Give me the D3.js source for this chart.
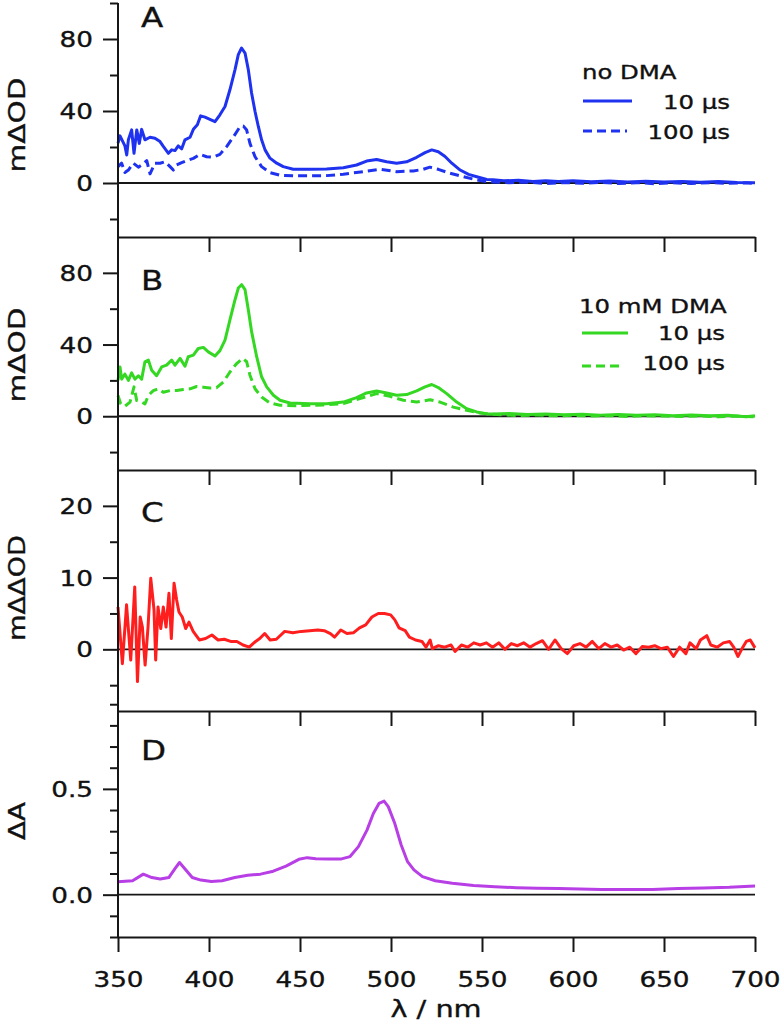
<!DOCTYPE html>
<html><head><meta charset="utf-8">
<script src="https://cdn.jsdelivr.net/npm/d3@7"></script>
<style>
body{margin:0;background:#fff}
svg{display:block}
text{font-family:"DejaVu Sans",sans-serif;fill:#111;stroke:#111;stroke-width:0.35px}
</style>
</head><body>
<svg id="c" width="782" height="1029"></svg>
<script>
// ---------------- data ----------------
const xTickValues = [350,400,450,500,550,600,650,700];
const panelLetters = ["A","B","C","D"];
const yTitles = ["mΔOD","mΔOD","mΔΔOD","ΔA"];
const legendA = ["no DMA","10 μs","100 μs"];
const legendB = ["10 mM DMA","10 μs","100 μs"];

const wlA10 = [350,351.1,353.8,354.8,355.7,357.5,358.8,360.3,361.7,363,364.8,367.6,370.3,373.1,374.9,377.7,379.5,381.3,383.1,385,386.8,389.6,391.4,393.6,395.4,397.8,400.5,403.3,406,408.8,411.5,414.3,416.1,417.9,419.8,421.6,423.4,425.3,427.1,428.9,430.8,433.5,437.2,440.8,446.3,455.5,464.6,473.8,481.1,486.6,492.1,497.6,503.1,508.6,514.1,518.7,522.4,526,529.7,533.4,538,542.6,547.1,552.6,556,562,570,578,585,592,600,610,620,630,640,650,660,670,680,690,700];
const odA10 = [22.1,26.2,20.6,15.6,24,29.5,16.5,29.5,22,29.8,24,25.4,24.9,23,20.3,16.5,18.4,18,20.6,19,24,25.4,29.8,32.3,37.3,36.6,35.4,34.1,37.9,42.5,51.8,63,71.3,75,72.2,63,50,39.7,31.4,24,18.4,13.8,11,9.1,7.6,7.6,7.8,8.5,10,12.2,13.1,11.8,11,11.8,14.3,16.9,18.4,17.4,14.7,11,7.2,4.8,3.5,2,1.8,1.2,1.5,0.9,1.3,0.8,1.2,0.7,1.1,0.6,1.0,0.5,0.9,0.4,0.8,0.3,0.2];

const wlA100 = [350,352,353.8,355.7,358.4,361.2,363,365.8,367.6,370.3,373.1,375.8,378.6,380.4,382.2,385,387.7,391.4,395.1,398.7,402.4,406,409.7,413.4,417,418.9,420.7,422.5,425.3,428.9,433.5,439,446.3,464.6,473.8,484.8,494,503.1,512.3,517.7,521.4,526,532.4,539.7,547.1,552.6,556,565,575,585,595,605,615,625,635,645,655,665,675,685,695,700];
const odA100 = [9.1,11,5.8,7.2,11,8.8,10,12.4,5.1,11,11,11.8,9.1,7.2,10,11.3,12.4,13.7,15.9,14.6,14.3,15.9,20.2,25.6,31.2,31.6,29.4,22,14.6,9.1,5.8,4.3,4,4.1,4.9,6.3,7.6,6.3,6.7,7.6,8.8,7.6,5.4,3.5,1.7,0.8,0.6,0.2,0.5,-0.3,0.3,-0.2,0.4,-0.3,0.2,-0.4,0.1,-0.3,0.2,-0.2,0.1,-0.2];

const wlB10 = [350,351.1,352,353.8,355.7,357.5,359.3,361.2,363,364.8,366.7,368.5,371.2,374,376.7,379.5,381.3,384.1,386.8,388.6,391.4,394.1,396.9,399.6,403.3,406,408.8,411.5,414.3,416.1,417.9,419.8,421.6,423.4,426.2,428.9,431.7,435.4,439,444.5,455.5,464.6,473.8,481.1,486.6,492.1,497.6,503.1,508.6,514.1,518.7,522.4,526,530.6,536.1,541.6,547.1,552.6,556,565,575,585,595,605,615,625,635,645,655,665,675,685,695,700];
const odB10 = [20,27.5,20.7,23.5,20,24.2,20.7,22.6,20.7,30.4,31.3,25.7,22.6,27.5,28.5,31.3,28.5,32.3,27.9,33.2,34.1,37.8,38.4,35.9,33.6,36.6,42.5,53.8,65,71.5,73.4,70.6,59.4,47.2,33.2,22,16.4,11.7,8.9,7.4,7,7,7.9,10.4,13,14.1,13,11.7,12.1,14.1,16.4,17.7,16,12.6,7.9,4.2,2.4,1.3,1.2,1.5,1.0,1.3,0.8,1.1,0.6,0.9,0.5,0.8,0.3,0.7,0.2,0.6,-0.3,0.3];

const wlB100 = [350,351.5,353.8,356.6,358.8,360.3,363,364.8,366.7,369.4,372.2,374.9,378.6,382.2,385.9,389.6,393.2,396.9,400.5,404.2,407.9,411.5,415.2,418.5,420.7,422.5,425.3,428.9,433.5,439,448.2,462.8,473.8,482.9,492.1,499.4,506.8,514.1,521.4,526.9,534.2,541.6,548.9,553.5,560,570,580,590,600,610,620,630,640,650,660,670,680,690,700];
const odB100 = [11.6,6.9,5.6,7.9,16.4,8.7,7.9,6.9,11.6,14.3,15.3,13.4,14.3,14.3,14.9,15.3,16.6,16.2,15.7,15.9,19.1,24.7,29.4,32.3,30.4,22.9,15.3,10.7,7.4,6.1,5.9,6.3,7,9.8,12.6,11.1,8.9,7.9,9.2,7.9,5.1,3.3,1.8,1.3,0.8,0.4,0.7,0.2,0.5,0.1,0.4,-0.1,0.3,0.1,-0.2,0.2,-0.3,0.1,-0.4];

const wlC = [350,352.4,354.7,357,359.2,360.7,362.2,363.4,364.9,366.5,368,369.8,370.7,372,373.5,374.9,376.4,378,379.3,380.8,382.2,383.5,385.3,387.2,389,391.3,394.7,398.1,401.6,405,408.4,411.9,415.3,418.7,422.1,425.6,427.9,430.6,433.6,437,441.6,446.1,450.7,455.3,459.8,463.3,466.7,469,472.4,475.8,479.3,482.7,486.1,489.5,493,496.4,499.8,502.1,504.4,507.8,510.1,513.5,517,519.2,521.5,522.7,526.1,529.5,533,535.2,538.7,542.1,545.5,549,552.4,555.8,559.2,562.6,566.1,569.5,572.9,576.4,579.8,583.2,586.6,590.1,593.5,596.9,600.4,603.8,607.2,610.6,614.1,617.5,620.9,624.3,627.8,631.2,634.6,638.1,641.5,644.9,648.3,651.8,655.2,658.6,662,664.3,667.7,670,673.5,675.7,679.2,682.6,686,688.3,690.6,692.9,695.2,697.4,700];
const odC = [5.9,-2,6.2,-1.5,8.7,-4.5,4.5,3.1,-2.2,3.1,9.9,5.5,-1.5,5.9,2.9,5.9,3.1,7.8,1.5,9.2,6.9,5.2,4.5,2.9,3.8,2.5,1.3,1.5,2.0,1.3,1.4,1.1,1.1,0.6,0.3,1.1,1.5,2.2,1.3,1.4,2.5,2.3,2.5,2.6,2.7,2.6,2.2,1.7,2.7,2.2,2.3,3.0,3.4,4.5,5.0,5.0,4.8,4.1,3.0,2.6,1.7,1.3,1.1,0.3,1.3,0.1,0.5,0.3,0.6,-0.3,0.6,0.3,0.9,0.6,0.9,0.3,0.9,0,0.8,0.5,0.9,0.3,0.8,1.2,0,1.3,0.1,-0.6,0.5,0.8,0.3,1.1,0.1,0.8,0.3,0.6,-0.1,0.3,-0.6,0.4,0.3,0.5,0.1,0.3,-1,0.3,-0.6,0.9,0.1,1.3,1.9,0.6,0.3,0.9,1.1,0.3,-1,0.1,1.1,1.3,0.2];

const wlD = [350,358,363.9,368.6,373.2,377.9,381.4,383.8,386.6,390.8,395.5,401.3,407.2,414.2,421.3,428.3,435.3,442.3,449.4,454,458.7,465.7,472.8,477.5,482.1,486.8,490.3,493.4,496.2,498.5,502.1,505.6,509.1,512.6,517.3,524.3,533.7,545.4,557.1,568.8,580.5,592.2,603.9,615.6,629.7,643.7,657.8,671.8,685.9,700];
const dA = [0.061,0.066,0.097,0.081,0.074,0.081,0.124,0.152,0.124,0.081,0.069,0.062,0.066,0.081,0.092,0.097,0.111,0.135,0.167,0.175,0.170,0.169,0.169,0.180,0.227,0.305,0.384,0.431,0.442,0.416,0.336,0.235,0.156,0.117,0.085,0.066,0.054,0.043,0.038,0.033,0.030,0.029,0.027,0.025,0.024,0.025,0.029,0.032,0.035,0.041];

const blue = "#1e32f0", green = "#34d822", red = "#ff1e1e", purple = "#b83ee6";

// ---------------- drawing ----------------
const svg = d3.select("#c");
const SX = 1.25;           // glyph widening
const ink = "#161616";
const x = d3.scaleLinear().domain([350,700]).range([118,755]);

const panels = [
  {domain:[-30,100], range:[237,3],   major:[0,40,80], minor:[-20,20,60,100], fmt:d3.format("d"),
   series:[{wl:wlA10,v:odA10,c:blue,dash:null},{wl:wlA100,v:odA100,c:blue,dash:"9,5"}], title:yTitles[0], titleLen:95, titleY:125},
  {domain:[-30,100], range:[470,237], major:[0,40,80], minor:[-20,20,60], fmt:d3.format("d"),
   series:[{wl:wlB10,v:odB10,c:green,dash:null},{wl:wlB100,v:odB100,c:green,dash:"9,5"}], title:yTitles[1], titleLen:95, titleY:355},
  {domain:[-8.6,25], range:[711,470], major:[0,10,20], minor:[-5,5,15], fmt:d3.format("d"),
   series:[{wl:wlC,v:odC,c:red,dash:null}], title:yTitles[2], titleLen:106, titleY:588},
  {domain:[-0.2,0.868], range:[937,711], major:[0,0.5], minor:[-0.2,-0.1,0.1,0.2,0.3,0.4,0.6,0.7,0.8,0.9], fmt:d3.format(".1f"),
   series:[{wl:wlD,v:dA,c:purple,dash:null}], title:yTitles[3], titleLen:38, titleY:821}
];

function stext(g, txt, px, py, size, anchor, rot){
  return g.append("text")
    .attr("transform", `translate(${px},${py})` + (rot?` rotate(${rot})`:"") + ` scale(${SX},1)`)
    .attr("text-anchor", anchor).attr("font-size", size).text(txt);
}

panels.forEach((p,i)=>{
  const y = d3.scaleLinear().domain(p.domain).range(p.range);
  const g = svg.append("g");
  const minorAxis = d3.axisLeft(y).tickValues(p.minor).tickSize(8).tickSizeOuter(0).tickFormat("");
  const gm = g.append("g").attr("transform","translate(118,0)").call(minorAxis);
  gm.select(".domain").remove();
  const majorAxis = d3.axisLeft(y).tickValues(p.major).tickSize(15).tickSizeOuter(0).tickFormat(p.fmt);
  const ga = g.append("g").attr("transform","translate(118,0)").call(majorAxis);
  ga.select(".domain").remove();
  ga.selectAll(".tick text").attr("x",null).attr("dy",null)
    .attr("font-size",21).attr("font-family","DejaVu Sans")
    .attr("fill",ink).attr("text-anchor","end")
    .attr("transform",`translate(-25,7.5) scale(${SX},1)`);
  [gm,ga].forEach(a=>a.selectAll(".tick line").attr("stroke",ink).attr("stroke-width",2));
  if(i>0){
    const sep = d3.axisBottom(x).tickValues(xTickValues.slice(1)).tickSize(15).tickSizeOuter(0).tickFormat("");
    const gs = g.append("g").attr("transform",`translate(0,${p.range[1]})`).call(sep);
    gs.select(".domain").attr("stroke",ink).attr("stroke-width",2);
    gs.selectAll(".tick line").attr("stroke",ink).attr("stroke-width",2);
  }
  g.append("line").attr("x1",x(350)).attr("x2",x(700)).attr("y1",y(0)).attr("y2",y(0))
    .attr("stroke",ink).attr("stroke-width",1.8);
  p.series.forEach(s=>{
    const pts = s.wl.map((w,k)=>[w,s.v[k]]);
    const line = d3.line().x(d=>x(d[0])).y(d=>y(d[1]));
    g.append("path").datum(pts).attr("d",line).attr("fill","none")
      .attr("stroke",s.c).attr("stroke-width",3).attr("stroke-linejoin","round")
      .attr("stroke-dasharray",s.dash);
  });
  const letterY = [27,290,522,760][i];
  stext(g, panelLetters[i], 141, letterY, 26, "start");
  g.append("text").attr("transform",`translate(25,${p.titleY}) rotate(-90)`)
    .attr("text-anchor","middle").attr("font-size",23)
    .attr("textLength",p.titleLen).attr("lengthAdjust","spacingAndGlyphs")
    .text(p.title);
});

svg.append("line").attr("x1",118).attr("x2",118).attr("y1",3).attr("y2",937)
  .attr("stroke",ink).attr("stroke-width",2);

const xb = d3.axisBottom(x).tickValues(xTickValues).tickSize(15).tickSizeOuter(0).tickFormat(d3.format("d"));
const gx = svg.append("g").attr("transform","translate(0,937)").call(xb);
gx.select(".domain").attr("stroke",ink).attr("stroke-width",2);
gx.selectAll(".tick line").attr("stroke",ink).attr("stroke-width",2);
gx.selectAll(".tick text").attr("y",null).attr("dy",null)
  .attr("font-size",21).attr("font-family","DejaVu Sans").attr("fill",ink)
  .attr("transform",`translate(0,50) scale(${SX},1)`);
stext(svg, "λ / nm", 436, 1017, 23, "middle");

function legend(items, color, tx, ty, lx1, lx2, rx, y1, y2, ly1, ly2, dashLen){
  stext(svg, items[0], tx, ty, 19.5, "start");
  svg.append("line").attr("x1",lx1).attr("x2",lx2).attr("y1",ly1).attr("y2",ly1)
    .attr("stroke",color).attr("stroke-width",3);
  svg.append("line").attr("x1",lx1).attr("x2",dashLen).attr("y1",ly2).attr("y2",ly2)
    .attr("stroke",color).attr("stroke-width",3).attr("stroke-dasharray","9,5");
  stext(svg, items[1], rx, y1, 19.5, "end");
  stext(svg, items[2], rx, y2, 19.5, "end");
}
legend(legendA, blue, 582, 79, 583, 632, 730, 109, 139, 101, 131, 627);
legend(legendB, green, 579, 313, 582, 628, 725, 340, 370, 333, 366, 624);
</script>
</body></html>
